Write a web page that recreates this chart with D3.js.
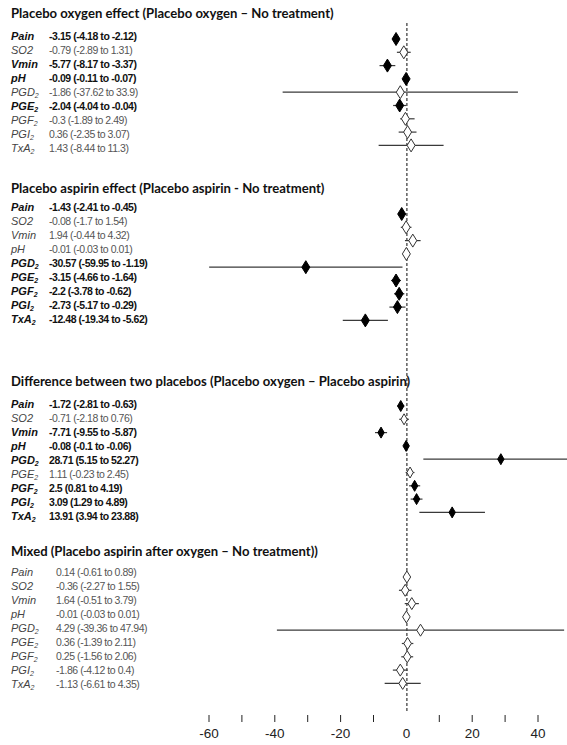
<!DOCTYPE html>
<html>
<head>
<meta charset="utf-8">
<script src="https://cdn.jsdelivr.net/npm/d3@7/dist/d3.min.js"></script>
<style>
  body { margin: 0; background: #fff; }
  svg { display: block; }
</style>
</head>
<body>
<script>
// forest plot, four panels stacked, one shared x axis at the bottom

var variables = ["Pain", "SO2", "Vmin", "pH", "PGD2", "PGE2", "PGF2", "PGI2", "TxA2"];
var labelBase = ["Pain", "SO2", "Vmin", "pH", "PGD", "PGE", "PGF", "PGI", "TxA"];
var labelSub  = ["", "", "", "", "2", "2", "2", "2", "2"];

var titles = [
  "Placebo oxygen effect (Placebo oxygen \u2013 No treatment)",
  "Placebo aspirin effect (Placebo aspirin - No treatment)",
  "Difference between two placebos (Placebo oxygen \u2013 Placebo aspirin)",
  "Mixed (Placebo aspirin after oxygen \u2013 No treatment))"
];

var oxygenEst = [-3.15, -0.79, -5.77, -0.09, -1.86, -2.04, -0.3, 0.36, 1.43];
var oxygenLo  = [-4.18, -2.89, -8.17, -0.11, -37.62, -4.04, -1.89, -2.35, -8.44];
var oxygenHi  = [-2.12, 1.31, -3.37, -0.07, 33.9, -0.04, 2.49, 3.07, 11.3];

var aspirinEst = [-1.43, -0.08, 1.94, -0.01, -30.57, -3.15, -2.2, -2.73, -12.48];
var aspirinLo  = [-2.41, -1.7, -0.44, -0.03, -59.95, -4.66, -3.78, -5.17, -19.34];
var aspirinHi  = [-0.45, 1.54, 4.32, 0.01, -1.19, -1.64, -0.62, -0.29, -5.62];

var diffEst = [-1.72, -0.71, -7.71, -0.08, 28.71, 1.11, 2.5, 3.09, 13.91];
var diffLo  = [-2.81, -2.18, -9.55, -0.1, 5.15, -0.23, 0.81, 1.29, 3.94];
var diffHi  = [-0.63, 0.76, -5.87, -0.06, 52.27, 2.45, 4.19, 4.89, 23.88];

var mixedEst = [0.14, -0.36, 1.64, -0.01, 4.29, 0.36, 0.25, -1.86, -1.13];
var mixedLo  = [-0.61, -2.27, -0.51, -0.03, -39.36, -1.39, -1.56, -4.12, -6.61];
var mixedHi  = [0.89, 1.55, 3.79, 0.01, 47.94, 2.11, 2.06, 0.4, 4.35];

var tickValues = [-60, -50, -40, -30, -20, -10, 10, 20, 30, 40];
var tickLabels = [-60, -40, -20, 0, 20, 40];

var w = 567, h = 745;

// layout of each panel (title y, first label row, first marker row, value text x, diamond half sizes)
var layout = [
  {title_y: 18,  label_y: 36,  mark_y: 39,  value_x: 49, hw: 4,   hh: 6.5},
  {title_y: 193, label_y: 207, mark_y: 214, value_x: 49, hw: 4,   hh: 6.5},
  {title_y: 386, label_y: 404, mark_y: 406, value_x: 49, hw: 3.2, hh: 5.5},
  {title_y: 556, label_y: 572, mark_y: 577, value_x: 56, hw: 3.8, hh: 6}
];
var label_step = 14;
var mark_step = 13.3;

var panels = [
  {est: oxygenEst, lo: oxygenLo, hi: oxygenHi},
  {est: aspirinEst, lo: aspirinLo, hi: aspirinHi},
  {est: diffEst, lo: diffLo, hi: diffHi},
  {est: mixedEst, lo: mixedLo, hi: mixedHi}
];

var x = d3.scaleLinear().domain([-60, 40]).range([209, 538]);

var svg = d3.select("body").append("svg")
  .attr("width", w).attr("height", h);

svg.append("rect").attr("x", 0).attr("y", 0)
  .attr("width", w).attr("height", h).style("fill", "#fff");

// dashed zero line
svg.append("line")
  .attr("x1", x(0) + 0.5).attr("x2", x(0) + 0.5)
  .attr("y1", 23).attr("y2", 712)
  .style("stroke", "#222").style("stroke-width", 1.1)
  .style("stroke-dasharray", "3,2");

panels.forEach(function(p, pi) {
  var lay = layout[pi];
  var g = svg.append("g");

  g.append("text")
    .attr("x", 11).attr("y", lay.title_y)
    .style("font-family", "Lato, 'Open Sans', sans-serif")
    .style("font-weight", "bold")
    .style("font-size", "13.1px")
    .style("fill", "#111")
    .text(titles[pi]);

  var rows = variables.map(function(v, i) {
    var sig = p.lo[i] > 0 || p.hi[i] < 0;
    return {i: i, est: p.est[i], lo: p.lo[i], hi: p.hi[i], sig: sig,
            ly: lay.label_y + i * label_step, my: lay.mark_y + i * mark_step};
  });

  // variable names
  var lab = g.selectAll(".lab").data(rows).enter().append("text")
    .attr("class", "lab")
    .attr("x", 11).attr("y", function(d) { return d.ly + 4; })
    .style("font-family", "'Liberation Sans', Arial, sans-serif")
    .style("font-style", "italic")
    .style("font-size", "11px")
    .style("font-weight", function(d) { return d.sig ? "bold" : "normal"; })
    .style("fill", function(d) { return d.sig ? "#111" : "#444"; });
  lab.append("tspan").text(function(d) { return labelBase[d.i]; });
  lab.append("tspan")
    .attr("dy", 1.5)
    .style("font-size", "7px")
    .text(function(d) { return labelSub[d.i]; });

  // estimate (CI) text
  g.selectAll(".val").data(rows).enter().append("text")
    .attr("class", "val")
    .attr("x", lay.value_x).attr("y", function(d) { return d.ly + 4; })
    .style("font-family", "'Liberation Sans', Arial, sans-serif")
    .style("font-size", "10.5px")
    .style("letter-spacing", "-0.45px")
    .style("font-weight", function(d) { return d.sig ? "bold" : "normal"; })
    .style("fill", function(d) { return d.sig ? "#111" : "#555"; })
    .text(function(d) { return d.est + " (" + d.lo + " to " + d.hi + ")"; });

  // CI lines
  g.selectAll(".ci").data(rows).enter().append("line")
    .attr("class", "ci")
    .attr("x1", function(d) { return x(d.lo); })
    .attr("x2", function(d) { return x(d.hi); })
    .attr("y1", function(d) { return d.my; })
    .attr("y2", function(d) { return d.my; })
    .style("stroke", "#3a3a3a").style("stroke-width", 1.2);

  // diamonds
  g.selectAll(".dia").data(rows).enter().append("path")
    .attr("class", "dia")
    .attr("d", function(d) {
      var cx = x(d.est), cy = d.my;
      return "M" + cx + "," + (cy - lay.hh) + "L" + (cx + lay.hw) + "," + cy +
             "L" + cx + "," + (cy + lay.hh) + "L" + (cx - lay.hw) + "," + cy + "Z";
    })
    .style("fill", function(d) { return d.sig ? "#000" : "#fff"; })
    .style("stroke", function(d) { return d.sig ? "#000" : "#333"; })
    .style("stroke-width", 1);
});

// x axis: ticks only, no domain line, no tick at zero
var axis = svg.append("g");
axis.selectAll(".tick").data(tickValues).enter().append("line")
  .attr("x1", function(d) { return x(d); })
  .attr("x2", function(d) { return x(d); })
  .attr("y1", 715).attr("y2", 722)
  .style("stroke", "#222").style("stroke-width", 1);

axis.selectAll(".tl").data(tickLabels).enter().append("text")
  .attr("x", function(d) { return x(d); })
  .attr("y", 738)
  .attr("text-anchor", "middle")
  .style("font-family", "'Liberation Sans', Arial, sans-serif")
  .style("font-size", "13.5px")
  .style("fill", "#222")
  .text(function(d) { return d; });
</script>
</body>
</html>
